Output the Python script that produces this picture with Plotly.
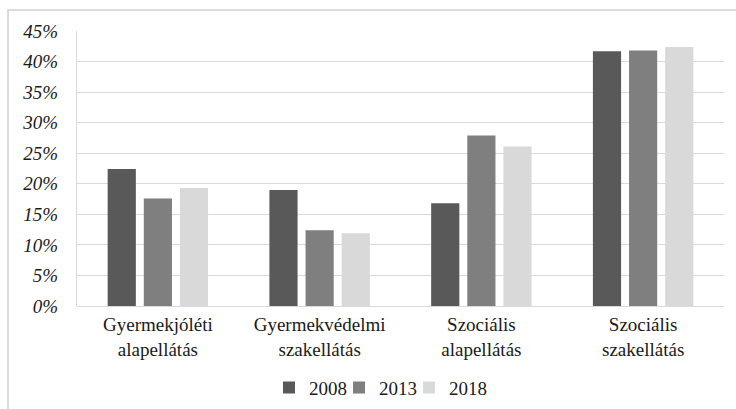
import plotly.graph_objects as go

categories = ["Gyermekjóléti<br>alapellátás", "Gyermekvédelmi<br>szakellátás",
              "Szociális<br>alapellátás", "Szociális<br>szakellátás"]
years = ["2008", "2013", "2018"]
values_2008 = [0.224, 0.190, 0.168, 0.417]
values_2013 = [0.176, 0.124, 0.279, 0.418]
values_2018 = [0.193, 0.119, 0.261, 0.424]
colors = ["#595959", "#7f7f7f", "#d9d9d9"]

FONT = "Times New Roman"

fig = go.Figure()
for name, vals, col in zip(years, [values_2008, values_2013, values_2018], colors):
    fig.add_trace(go.Bar(x=categories, y=vals, name=name, marker_color=col,
                         marker_line_width=0, hoverinfo="skip"))
# blank spacer legend entry so the last legend label is not clipped
fig.add_trace(go.Scatter(x=[None], y=[None], mode="markers", name="\u00a0\u00a0\u00a0",
                         marker=dict(color="rgba(0,0,0,0)", size=1),
                         showlegend=True, hoverinfo="skip"))

fig.update_layout(
    width=736, height=409,
    margin=dict(l=77, r=12, t=31, b=103, autoexpand=False),
    paper_bgcolor="white", plot_bgcolor="white",
    barmode="group", bargap=0.33, bargroupgap=0.22,
    font=dict(family=FONT, color="#1a1a1a", size=19),
    showlegend=True,
    legend=dict(orientation="h", xref="container", yref="container",
                x=269 / 736, xanchor="left", y=0.052, yanchor="middle",
                font=dict(size=19, family=FONT, color="#1a1a1a"),
                itemwidth=30, entrywidth=25, tracegroupgap=0,
                traceorder="normal", itemclick=False, itemdoubleclick=False,
                bgcolor="rgba(0,0,0,0)"),
    xaxis=dict(showgrid=False, showline=False, ticks="",
               tickfont=dict(size=19, family=FONT, color="#1a1a1a"),
               ticklabelstandoff=5),
    yaxis=dict(range=[0, 0.45], dtick=0.05, tickformat=".0%",
               showgrid=True, gridcolor="#d9d9d9", gridwidth=1,
               zeroline=True, zerolinecolor="#d9d9d9", zerolinewidth=1,
               showline=True, linecolor="#d9d9d9", linewidth=1, ticks="",
               tickfont=dict(size=19, family=FONT, color="#1a1a1a", style="italic"),
               ticklabelstandoff=14),
    shapes=[dict(type="rect", xref="paper", yref="paper",
                 x0=-69/647, x1=1.2, y0=-0.6, y1=1 + 21/275,
                 line=dict(color="#d0d0d0", width=1.5), layer="below")],
)

fig.write_html("out.html")
